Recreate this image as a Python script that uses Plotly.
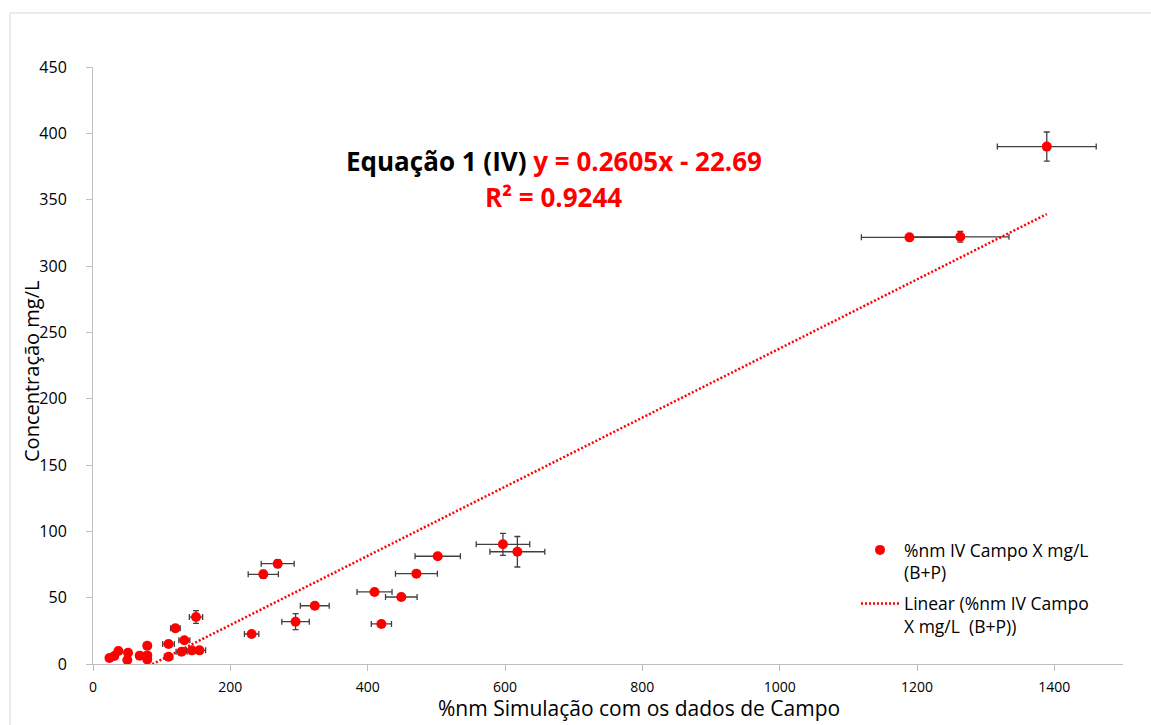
import plotly.graph_objects as go

# %nm from the field-data simulation (x) vs measured concentration in mg/L (y)
x_vals = [24, 31, 37, 51, 50, 68, 79, 79, 79, 110, 110, 120, 129, 133, 144, 155, 150,
          231, 248, 269, 295, 323, 410, 420, 449, 471, 502, 597, 618, 1189, 1263, 1389]
y_vals = [4.5, 6, 9.8, 8.5, 3.0, 6.3, 13.8, 6.5, 3.5, 15.1, 5.5, 26.9, 9.3, 17.9, 10.3, 10.3, 35.4,
          22.6, 67.6, 75.6, 31.9, 43.9, 54.3, 30.2, 50.5, 68.1, 81.2, 90.2, 84.6, 321.6, 322, 390]
x_err = [1.5, 2, 2.5, 3, 3, 4, 5, 5, 5, 8.5, 6, 7, 8, 8, 8, 9, 9.7,
         10.5, 22, 24, 20, 21, 25.5, 14.7, 23, 30.5, 33, 39, 40, 70, 71, 72]
y_err = [0.5, 0.5, 1.5, 1.5, 0.5, 1, 2, 1, 0.5, 1.5, 1, 2.5, 1, 2, 1, 1, 4.8,
         1.5, 3, 3, 6, 1.5, 1.5, 1.5, 1, 1.5, 1.5, 8.3, 11.5, 1, 4, 11]

# linear trend: y = 0.2605x - 22.69, R² = 0.9244
slope = 0.2605
intercept = -22.69
r2 = 0.9244

x_ticks = [0, 200, 400, 600, 800, 1000, 1200, 1400]
y_ticks = [0, 50, 100, 150, 200, 250, 300, 350, 400, 450]

FONT = "Open Sans"
AXIS_GRAY = "#bfbfbf"
BAR_GRAY = "#404040"

# plot area in pixels
L, R, T, B = 93, 1123, 67, 664
W, H = R - L, B - T


def px(xp):
    return (xp - L) / W


def py(yp):
    return (B - yp) / H


line_x = [min(x_vals), max(x_vals)]
line_y = [slope * v + intercept for v in line_x]

fig = go.Figure()

fig.add_trace(go.Scatter(
    x=x_vals, y=y_vals, mode="markers",
    name="%nm IV Campo X mg/L<br>(B+P)", legendgroup="pts",
    marker=dict(color="#ff0000", size=10),
    error_x=dict(type="data", array=x_err, visible=True, color=BAR_GRAY, thickness=1.3, width=3),
    error_y=dict(type="data", array=y_err, visible=True, color=BAR_GRAY, thickness=1.3, width=3),
))

fig.add_trace(go.Scatter(
    x=line_x, y=line_y, mode="lines",
    name="Linear (%nm IV Campo<br>X mg/L  (B+P))", legendgroup="fit",
    line=dict(color="#ff0000", width=2.5, dash="2px,2px"),
))

fig.add_annotation(
    xref="paper", yref="paper", x=px(554), y=py(161),
    text=("<b>Equação 1 (IV) </b><b><span style='color:#ff0000'>y = %.4fx - %.2f</span></b>"
          % (slope, -intercept)),
    showarrow=False, font=dict(family=FONT, size=26, color="#000000"),
    xanchor="center", yanchor="middle",
)
fig.add_annotation(
    xref="paper", yref="paper", x=px(553), y=py(197),
    text="<b>R² = %.4f</b>" % r2,
    showarrow=False, font=dict(family=FONT, size=26, color="#ff0000"),
    xanchor="center", yanchor="middle",
)

# axis titles
fig.add_annotation(
    xref="paper", yref="paper", x=px(639), y=py(708),
    text="%nm Simulação com os dados de Campo",
    showarrow=False, font=dict(family=FONT, size=21, color="#000000"),
    xanchor="center", yanchor="middle",
)
fig.add_annotation(
    xref="paper", yref="paper", x=px(31), y=py(372),
    text="Concentração mg/L", textangle=-90,
    showarrow=False, font=dict(family=FONT, size=20, color="#000000"),
    xanchor="center", yanchor="middle",
)

# outer chart border
fig.add_shape(
    type="rect", xref="paper", yref="paper",
    x0=px(10), x1=px(1170), y0=py(740), y1=py(13),
    line=dict(color="#d9d9d9", width=1), fillcolor="rgba(0,0,0,0)", layer="below",
)

fig.update_layout(
    width=1151, height=725,
    margin=dict(l=L, r=1151 - R, t=T, b=725 - B),
    paper_bgcolor="white", plot_bgcolor="white",
    font=dict(family=FONT, color="#000000"),
    showlegend=True,
    legend=dict(
        x=px(856), y=py(532), xanchor="left", yanchor="top",
        font=dict(family=FONT, size=17.5, color="#000000"),
        bgcolor="rgba(0,0,0,0)", valign="top", tracegroupgap=5,
        itemwidth=38,
    ),
    xaxis=dict(
        range=[0, 1500], tickvals=x_ticks, ticktext=[str(v) for v in x_ticks],
        showgrid=False, zeroline=False, showline=True, linecolor=AXIS_GRAY, linewidth=1,
        ticks="outside", ticklen=6, tickcolor=AXIS_GRAY, ticklabelstandoff=4,
        tickfont=dict(family=FONT, size=14, color="#000000"),
    ),
    yaxis=dict(
        range=[0, 450], tickvals=y_ticks, ticktext=[str(v) for v in y_ticks],
        showgrid=False, zeroline=False, showline=True, linecolor=AXIS_GRAY, linewidth=1,
        ticks="outside", ticklen=6, tickcolor=AXIS_GRAY, ticklabelstandoff=16,
        tickfont=dict(family=FONT, size=16, color="#000000"),
    ),
)

fig.write_html("out.html")
